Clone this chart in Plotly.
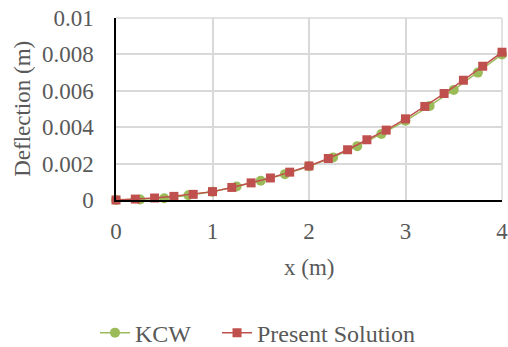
import plotly.graph_objects as go

kcw_x = [0, 0.25, 0.5, 0.75, 1.0, 1.25, 1.5, 1.75, 2.0, 2.25, 2.5, 2.75, 3.0, 3.25, 3.5, 3.75, 4.0]
kcw_y = [0, 0.00003, 0.0001, 0.00026, 0.00045, 0.00074, 0.00106, 0.00142, 0.00185, 0.00234,
         0.00296, 0.00363, 0.00435, 0.00517, 0.00605, 0.00700, 0.00800]

ps_x = [0, 0.2, 0.4, 0.6, 0.8, 1.0, 1.2, 1.4, 1.6, 1.8, 2.0, 2.2, 2.4, 2.6, 2.8, 3.0, 3.2, 3.4, 3.6, 3.8, 4.0]
ps_y = [0, 0.00005, 0.00011, 0.0002, 0.00031, 0.00046, 0.00069, 0.00094, 0.00121, 0.00153, 0.00187,
        0.00228, 0.00276, 0.00331, 0.00384, 0.00446, 0.00514, 0.00585, 0.00658, 0.00735, 0.00812]

y_ticks = [0, 0.002, 0.004, 0.006, 0.008, 0.01]
y_labels = ["0", "0.002", "0.004", "0.006", "0.008", "0.01"]
x_ticks = [0, 1, 2, 3, 4]

font = "Liberation Serif"
grey = "#595959"
gridc = "#d9d9d9"
fs = 23

fig = go.Figure()
fig.add_trace(go.Scatter(x=kcw_x, y=kcw_y, name="KCW", mode="lines+markers",
                         line=dict(color="#9bbb59", width=1.5),
                         marker=dict(symbol="circle", size=10, color="#9bbb59"),
                         cliponaxis=False, legend="legend"))
fig.add_trace(go.Scatter(x=ps_x, y=ps_y, name="Present Solution", mode="lines+markers",
                         line=dict(color="#c0504d", width=1.5),
                         marker=dict(symbol="square", size=9, color="#c0504d"),
                         cliponaxis=False, legend="legend2"))

leg_common = dict(orientation="h", xanchor="left", y=-0.731, yanchor="middle",
                  font=dict(family=font, size=24, color=grey), bgcolor="rgba(0,0,0,0)")

fig.update_layout(
    width=508, height=347,
    margin=dict(l=116, r=6, t=18, b=147, autoexpand=False),
    paper_bgcolor="white", plot_bgcolor="white",
    font=dict(family=font, size=fs, color=grey),
    showlegend=True,
    legend=dict(x=-0.0544, **leg_common),
    legend2=dict(x=0.2617, **leg_common),
    xaxis=dict(range=[0, 4], tickvals=x_ticks, showgrid=True, gridcolor=gridc, gridwidth=1.5,
               showline=True, linecolor="#000000", linewidth=1.5, zeroline=False,
               ticks="outside", ticklen=10, tickcolor="rgba(0,0,0,0)", automargin=False,
               ticklabeloverflow="allow",
               tickfont=dict(family=font, size=fs, color=grey)),
    yaxis=dict(range=[0, 0.01], tickvals=y_ticks, ticktext=y_labels, showgrid=True,
               gridcolor=gridc, gridwidth=1.5, automargin=False,
               showline=True, linecolor="#000000", linewidth=1.5, zeroline=False,
               ticks="outside", ticklen=16, tickcolor="rgba(0,0,0,0)",
               ticklabeloverflow="allow",
               tickfont=dict(family=font, size=fs, color=grey)),
    shapes=[
        dict(type="line", xref="paper", yref="paper", x0=0, x1=1, y0=1, y1=1,
             line=dict(color=gridc, width=1.5), layer="below"),
        dict(type="line", xref="paper", yref="paper", x0=1, x1=1, y0=0, y1=1,
             line=dict(color=gridc, width=1.5), layer="below"),
    ],
    annotations=[
        dict(text="x (m)", xref="paper", yref="paper", x=0.5, y=-0.37, xanchor="center",
             yanchor="middle", showarrow=False, font=dict(family=font, size=fs, color=grey)),
        dict(text="Deflection (m)", xref="paper", yref="paper", x=-0.244, y=0.5, xanchor="center",
             yanchor="middle", textangle=-90, showarrow=False,
             font=dict(family=font, size=fs, color=grey)),
    ],
)

fig.write_html("out.html", config={"displayModeBar": False},
               post_script="document.body.style.margin='0';")
